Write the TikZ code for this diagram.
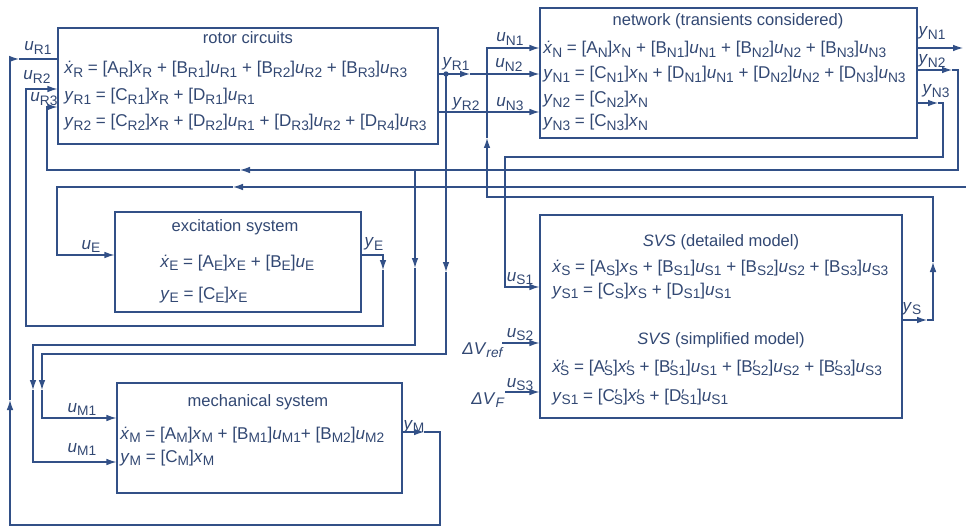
\documentclass[tikz,border=0pt]{standalone}
\usepackage{fontspec}
\setmainfont{Liberation Sans}
\usetikzlibrary{arrows.meta,fit}
\definecolor{ink}{RGB}{50,80,135}
\definecolor{txt}{RGB}{50,72,115}
\newcommand\Sb[1]{\smash{\raisebox{-2.6pt}{\fontsize{10.3}{11}\selectfont #1}}}
\newcommand\V[2]{\textit{#1}\Sb{#2}}
\newcommand\M[2]{[#1\Sb{#2}]}
\newcommand\Mp[2]{[#1′\kern-0.25em\Sb{#2}]}
\newcommand\xd{\textit{ẋ}}
\newcommand\Xd[1]{\xd\Sb{#1}}
\newcommand\Xdp[1]{\xd′\kern-0.25em\Sb{#1}}
\newcommand\Xp[1]{\textit{x}′\kern-0.25em\Sb{#1}}
\begin{document}
\begin{tikzpicture}[x=0.75pt,y=-0.75pt,
 blk/.style={draw=ink,line width=0.9pt,inner sep=0pt},
 wire/.style={draw=ink,line width=0.9pt},
 tip/.style={-{Latex[length=7.5pt,width=5pt]}},
 lbl/.style={text=txt,font=\fontsize{12.8}{14}\selectfont,inner sep=0pt,anchor=base},
 ttl/.style={lbl,font=\fontsize{12.4}{14}\selectfont},
 eq/.style={lbl,anchor=base west},
 jdot/.style={circle,fill=ink,inner sep=0pt,minimum size=4pt}]
\useasboundingbox (0,0) rectangle (966,527);
\fill[white] (0,0) rectangle (966,527);
% boxes
\node[blk,fit={(58,28)(438,144)}] (rot) {};
\node[blk,fit={(540,8)(917,138)}] (net) {};
\node[blk,fit={(115,212)(361,312)}] (exc) {};
\node[blk,fit={(540,215)(902,418)}] (svs) {};
\node[blk,fit={(117,383)(402,493)}] (mec) {};
% rotor text
\node[ttl] (trot) at (248,44) {rotor circuits};
\node[eq] (r1) at (64,74) {\Xd{R} = \M{A}{R}\V{x}{R} + \M{B}{R1}\V{u}{R1} + \M{B}{R2}\V{u}{R2} + \M{B}{R3}\V{u}{R3}};
\node[eq] (r2) at (64,101) {\V{y}{R1} = \M{C}{R1}\V{x}{R} + \M{D}{R1}\V{u}{R1}};
\node[eq] (r3) at (64,127) {\V{y}{R2} = \M{C}{R2}\V{x}{R} + \M{D}{R2}\V{u}{R1} + \M{D}{R3}\V{u}{R2} + \M{D}{R4}\V{u}{R3}};
% network text
\node[ttl] (tnet) at (728,26) {network (transients considered)};
\node[eq] (n1) at (543,54) {\Xd{N} = \M{A}{N}\V{x}{N} + \M{B}{N1}\V{u}{N1} + \M{B}{N2}\V{u}{N2} + \M{B}{N3}\V{u}{N3}};
\node[eq] (n2) at (543,79) {\V{y}{N1} = \M{C}{N1}\V{x}{N} + \M{D}{N1}\V{u}{N1} + \M{D}{N2}\V{u}{N2} + \M{D}{N3}\V{u}{N3}};
\node[eq] (n3) at (543,104) {\V{y}{N2} = \M{C}{N2}\V{x}{N}};
\node[eq] (n4) at (543,127) {\V{y}{N3} = \M{C}{N3}\V{x}{N}};
% excitation text
\node[ttl] (texc) at (235,231) {excitation system};
\node[eq] (e1) at (160,267) {\Xd{E} = \M{A}{E}\V{x}{E} + \M{B}{E}\V{u}{E}};
\node[eq] (e2) at (160,299) {\V{y}{E} = \M{C}{E}\V{x}{E}};
% svs text
\node[ttl] (tsvs1) at (721,246) {\textit{SVS} (detailed model)};
\node[eq] (s1) at (552,272) {\Xd{S} = \M{A}{S}\V{x}{S} + \M{B}{S1}\V{u}{S1} + \M{B}{S2}\V{u}{S2} + \M{B}{S3}\V{u}{S3}};
\node[eq] (s2) at (552,295) {\V{y}{S1} = \M{C}{S}\V{x}{S} + \M{D}{S1}\V{u}{S1}};
\node[ttl] (tsvs2) at (721,344) {\textit{SVS} (simplified model)};
\node[eq] (s3) at (552,372) {\Xdp{S} = \Mp{A}{S}\Xp{S} + \Mp{B}{S1}\V{u}{S1} + \Mp{B}{S2}\V{u}{S2} + \Mp{B}{S3}\V{u}{S3}};
\node[eq] (s4) at (552,401) {\V{y}{S1} = \Mp{C}{S}\Xp{S} + \Mp{D}{S1}\V{u}{S1}};
% mechanical text
\node[ttl] (tmec) at (258,406) {mechanical system};
\node[eq] (m1) at (120,439) {\Xd{M} = \M{A}{M}\V{x}{M} + \M{B}{M1}\V{u}{M1}+ \M{B}{M2}\V{u}{M2}};
\node[eq] (m2) at (120,462) {\V{y}{M} = \M{C}{M}\V{x}{M}};
% signal labels
\node[lbl] (luR1) at (38,51) {\V{u}{R1}};
\node[lbl] (luR2) at (37,80) {\V{u}{R2}};
\node[lbl] (luR3) at (44,102) {\V{u}{R3}};
\node[lbl] (lyR1) at (456,67) {\V{y}{R1}};
\node[lbl] (luN2) at (509,68) {\V{u}{N2}};
\node[lbl] (lyR2) at (466,107) {\V{y}{R2}};
\node[lbl] (luN3) at (510,107) {\V{u}{N3}};
\node[lbl] (luN1) at (510,42) {\V{u}{N1}};
\node[lbl] (lyN1) at (932,36) {\V{y}{N1}};
\node[lbl] (lyN2) at (932,64) {\V{y}{N2}};
\node[lbl] (lyN3) at (936,94) {\V{y}{N3}};
\node[lbl] (luE) at (91,249) {\V{u}{E}};
\node[lbl] (lyE) at (374,247) {\V{y}{E}};
\node[lbl] (luS1) at (520,281) {\V{u}{S1}};
\node[lbl] (luS2) at (520,337) {\V{u}{S2}};
\node[lbl] (lVref) at (483,354) {\textit{ΔV}\Sb{\textit{ref}}};
\node[lbl] (luS3) at (520,387) {\V{u}{S3}};
\node[lbl] (lVF) at (488,404) {\textit{ΔV}\Sb{\textit{F}}};
\node[lbl] (lyS) at (912,311) {\V{y}{S}};
\node[lbl] (luM1a) at (82,412) {\V{u}{M1}};
\node[lbl] (luM1b) at (82,452) {\V{u}{M1}};
\node[lbl] (lyM) at (414,429) {\V{y}{M}};
% yM -> uR1
\draw[wire,tip] (mec.east |- 0,432) -- (424,432);
\draw[wire,tip] (424,432) -| (440,525) -| (10,400);
\draw[wire,tip] (10,400) |- (19,59);
\draw[wire] (19,59) -- (rot.west |- 0,59);
% yE -> uR2
\draw[wire,tip] (exc.east |- 0,255) -| (383,270);
\draw[wire,tip] (383,270) |- (26,326) |- (rot.west |- 0,89);
% yN2 -> uR3, uM1 (lower)
\draw[wire,tip] (net.east |- 0,70) -- (952,70);
\draw[wire,tip] (952,70) -| (958,170) -- (240,170);
\draw[wire,tip] (240,170) -| (47,107) -- (rot.west |- 0,107);
\coordinate (bN2) at (415,170);
\draw[wire,tip] (bN2) -- (415,268);
\draw[wire,tip] (415,268) |- (33,345) -- (33,390);
\draw[wire,tip] (33,390) |- (mec.west |- 0,462);
% yR1 -> uN2, uM1 (upper)
\node[jdot] (jR1) at (446,74) {};
\draw[wire,tip] (rot.east |- 0,74) -- (470,74);
\draw[wire,tip] (470,74) -- (net.west |- 0,74);
\draw[wire,tip] (jR1.center) -- (446,272);
\draw[wire,tip] (446,272) |- (42,354) -- (42,390);
\draw[wire,tip] (42,390) |- (mec.west |- 0,418);
% yR2 -> uN3
\draw[wire,tip] (rot.east |- 0,112) -- (net.west |- 0,112);
% yS -> uN1
\draw[wire,tip] (svs.east |- 0,320) -- (927,320);
\draw[wire,tip] (927,320) -| (933,262);
\draw[wire,tip] (933,262) |- (487,197) -- (487,138);
\draw[wire,tip] (487,138) |- (net.west |- 0,48);
% yN3 -> uS1
\draw[wire,tip] (net.east |- 0,103) -- (938,103);
\draw[wire,tip] (938,103) -| (943,157) -| (505,287) -- (svs.west |- 0,287);
% external -> uE
\coordinate (ext) at (966,187);
\draw[wire,tip] (ext) -- (233,187);
\draw[wire,tip] (233,187) -| (57,255) -- (exc.west |- 0,255);
% yN1 out
\coordinate (oN1) at (963,48);
\draw[wire,tip] (net.east |- 0,48) -- (oN1);
% SVS external inputs
\coordinate (iS2) at (502,343);
\draw[wire,tip] (iS2) -- (svs.west |- 0,343);
\coordinate (iS3) at (505,392);
\draw[wire,tip] (iS3) -- (svs.west |- 0,392);
\end{tikzpicture}
\end{document}
